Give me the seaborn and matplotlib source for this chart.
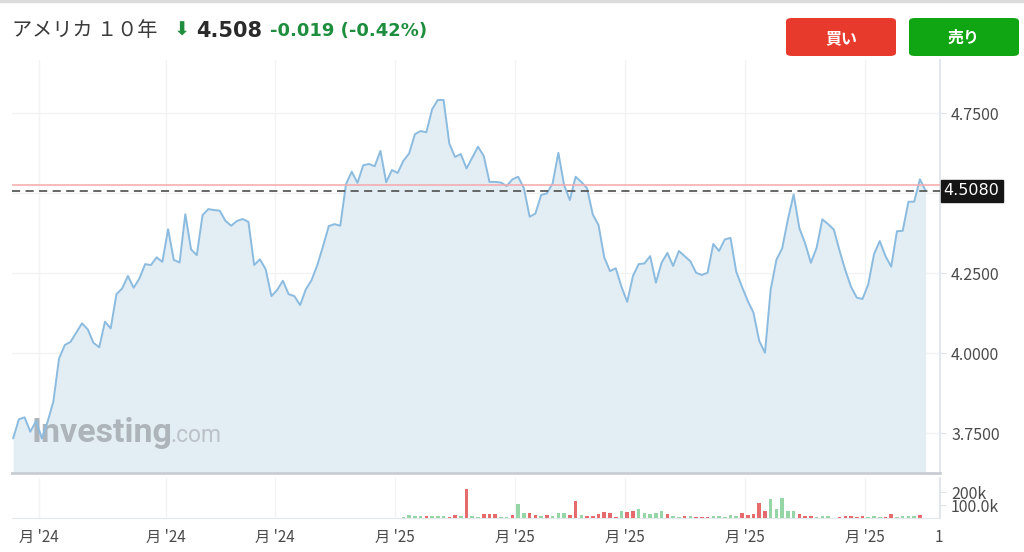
import numpy as np
import pandas as pd
import seaborn as sns
import matplotlib.pyplot as plt
from matplotlib.patches import FancyBboxPatch
from matplotlib.lines import Line2D
from matplotlib import transforms

# --- data ---
price = [
    3.734, 3.794, 3.800, 3.755, 3.789, 3.734, 3.786, 3.849, 3.984, 4.026,
    4.036, 4.065, 4.094, 4.075, 4.033, 4.019, 4.099, 4.078, 4.185, 4.203,
    4.242, 4.205, 4.234, 4.279, 4.276, 4.300, 4.286, 4.388, 4.292, 4.284,
    4.435, 4.325, 4.307, 4.432, 4.451, 4.448, 4.446, 4.414, 4.399, 4.414,
    4.420, 4.411, 4.276, 4.294, 4.263, 4.179, 4.198, 4.227, 4.185, 4.179,
    4.151, 4.200, 4.229, 4.276, 4.335, 4.398, 4.404, 4.399, 4.529, 4.568,
    4.533, 4.588, 4.592, 4.585, 4.633, 4.535, 4.573, 4.564, 4.602, 4.625,
    4.685, 4.695, 4.691, 4.763, 4.792, 4.792, 4.656, 4.614, 4.623, 4.578,
    4.612, 4.646, 4.617, 4.536, 4.536, 4.534, 4.523, 4.544, 4.552, 4.516,
    4.427, 4.437, 4.495, 4.500, 4.531, 4.627, 4.526, 4.479, 4.552, 4.536,
    4.516, 4.434, 4.401, 4.300, 4.257, 4.266, 4.208, 4.161, 4.242, 4.279,
    4.281, 4.304, 4.221, 4.284, 4.314, 4.273, 4.320, 4.304, 4.288, 4.252,
    4.245, 4.252, 4.342, 4.320, 4.356, 4.361, 4.255, 4.208, 4.164, 4.127,
    4.039, 4.002, 4.200, 4.293, 4.328, 4.419, 4.497, 4.391, 4.344, 4.283,
    4.330, 4.419, 4.404, 4.387, 4.321, 4.260, 4.208, 4.174, 4.170, 4.216,
    4.310, 4.351, 4.304, 4.271, 4.382, 4.383, 4.474, 4.474, 4.544, 4.508,
]
last_price = 4.508
prev_close = 4.527

# volume in thousands, starting at bar 68
vol_start = 68
volume = [
    5, 26, 15, 15, 15, 15, 15, 15, 10, 26, 15, 226, 15, 8, 28, 28, 28, 8, 5, 26,
    110, 38, 36, 26, 13, 26, 13, 38, 38, 21, 128, 20, 15, 15, 31, 46, 38, 5, 51, 46,
    56, 67, 38, 31, 38, 56, 28, 15, 8, 15, 15, 10, 10, 5, 15, 15, 10, 26, 15, 41,
    23, 28, 118, 51, 144, 72, 154, 51, 51, 31, 15, 15, 5, 15, 15, 3, 5, 13, 13, 8,
    15, 8, 15, 5, 8, 31, 10, 15, 15, 15, 26,
]
vol_dir = list(
    "uuuuduuuddudu" "uddduudu" "udduduuuddu" "dddddduddu"
    "uuuuduudud" "dduuuuuddd" "dduuuuuddd" "uuudddddd" "uuuddu" "uuudu"
)

tick_pos = [4.5, 26.6, 45.6, 66.5, 87.4, 106.6, 127.5, 148.4, 161.3]
tick_labels = ["月 '24", "月 '24", "月 '24", "月 '25", "月 '25", "月 '25", "月 '25", "月 '25", "1"]
y_ticks = [3.75, 4.0, 4.25, 4.5, 4.75]

df = pd.DataFrame({"day": np.arange(len(price)), "price": price})
vol_dir = vol_dir[:len(volume)] + ["u"] * (len(volume) - len(vol_dir))
vdf = pd.DataFrame({"day": np.arange(vol_start, vol_start + len(volume)),
                    "vol": volume, "dir": vol_dir})

sns.set_style("white")
plt.rcParams["font.family"] = ["Noto Sans CJK JP", "DejaVu Sans"]

fig = plt.figure(figsize=(10.24, 5.52), dpi=100)
W, H = 1024, 552

def fx(px):
    return px / W

def fy(py):
    return 1 - py / H

xlim = (-0.2, 161.5)
grid_c = "#F1F3F5"
lab_c = "#4A4A4A"

# main price panel
ax = fig.add_axes([fx(12), fy(473), fx(940) - fx(12), fy(60) - fy(473)])
ymin, ymax = 3.626, 4.917
ax.fill_between(df["day"], df["price"], ymin, color="#E3EDF4", lw=0, zorder=1)
sns.lineplot(data=df, x="day", y="price", ax=ax, color="#8BBBDF", lw=1.4, zorder=3)
ax.axhline(prev_close, color="#F5A9A9", lw=1.1, zorder=4)
ax.axhline(last_price, color="#5A5A5A", lw=1.3, ls=(0, (4.5, 3)), zorder=4)
ax.set_xlim(*xlim)
ax.set_ylim(ymin, ymax)
ax.set_xticks(tick_pos[:-1])
ax.set_yticks(y_ticks)
ax.grid(True, color=grid_c, lw=1, zorder=0)
ax.set_axisbelow(True)
ax.yaxis.tick_right()
ax.set_yticklabels(["3.7500", "4.0000", "4.2500", "", "4.7500"])
ax.tick_params(axis="y", length=4, color="#DCE3EA", labelsize=11.5,
               labelcolor=lab_c, pad=4, right=True)
ax.tick_params(axis="x", length=0, labelbottom=False)
ax.set_xlabel("")
ax.set_ylabel("")
for s in ["top", "left"]:
    ax.spines[s].set_visible(False)
ax.spines["bottom"].set_color("#C9CDD1")
ax.spines["bottom"].set_linewidth(2)
ax.spines["right"].set_color("#DCE3EA")
ax.spines["right"].set_linewidth(1.2)

# last price tag
tr = transforms.blended_transform_factory(ax.transAxes, ax.transData)
ax.text(1.004, last_price, "4.5080", transform=tr, ha="left", va="center",
        fontsize=11.5, color="white", family="DejaVu Sans",
        bbox=dict(boxstyle="square,pad=0.2", fc="#151515", ec="#151515"))

# watermark
ax.text(0.021, 0.075, "Investing", transform=ax.transAxes, fontsize=24.5,
        fontweight="bold", color="#AEB5BA", family="Roboto", ha="left",
        va="baseline", zorder=2)
ax.text(0.171, 0.075, ".com", transform=ax.transAxes, fontsize=16.5,
        color="#BCC3C8", family="Roboto", ha="left", va="baseline", zorder=2)

# volume panel
vax = fig.add_axes([fx(12), fy(518), fx(940) - fx(12), fy(478) - fy(518)])
vol_colors = {"u": "#96D6A6", "d": "#E56B6D"}
vax.bar(vdf["day"], vdf["vol"], width=0.62,
        color=[vol_colors[d] for d in vdf["dir"]], lw=0, zorder=3)
vax.set_xlim(*xlim)
vax.set_ylim(0, 308)
vax.set_xticks(tick_pos)
vax.set_xticklabels(tick_labels)
vax.set_yticks([100, 200])
vax.set_yticklabels(["100.0k", "200k"])
vax.yaxis.tick_right()
vax.grid(True, axis="x", color=grid_c, lw=1, zorder=0)
vax.set_axisbelow(True)
vax.tick_params(axis="y", length=4, color="#DCE3EA", labelsize=11.5,
                labelcolor=lab_c, pad=4, right=True)
vax.tick_params(axis="x", length=5, color="#E3E8ED", labelsize=11,
                labelcolor=lab_c, pad=3)
vax.set_xlabel("")
vax.set_ylabel("")
for s in ["top", "left"]:
    vax.spines[s].set_visible(False)
vax.spines["bottom"].set_color("#E3E8ED")
vax.spines["right"].set_color("#DCE3EA")
vax.spines["right"].set_linewidth(1.2)

# header
fig.add_artist(Line2D([0, 1], [fy(1), fy(1)], color="#DCDCDC", lw=2.5))
fig.text(fx(12), fy(31), "アメリカ １０年", fontsize=14.5, color="#3A3A3A",
         va="center", ha="left")
fig.text(fx(174), fy(30), "⬇", fontsize=14, color="#1E8E3E", va="center",
         ha="left", family="DejaVu Sans")
fig.text(fx(196), fy(31), "4.508", fontsize=15, fontweight="bold",
         color="#2A2A2A", va="center", ha="left", family="DejaVu Sans")
fig.text(fx(270), fy(31), "-0.019 (-0.42%)", fontsize=13, fontweight="bold",
         color="#1E8E3E", va="center", ha="left", family="DejaVu Sans")

for x0, col, label in [(786, "#E83A2C", "買い"), (909, "#10A512", "売り")]:
    fig.add_artist(FancyBboxPatch((fx(x0), fy(56)), fx(110), fy(18) - fy(56),
                                  boxstyle="round,pad=0,rounding_size=0.006",
                                  fc=col, ec="none", transform=fig.transFigure))
    fig.text(fx(x0 + 55), fy(38), label, fontsize=11.5, fontweight="bold",
             color="white", ha="center", va="center")

fig.savefig("out.png", dpi=100)
